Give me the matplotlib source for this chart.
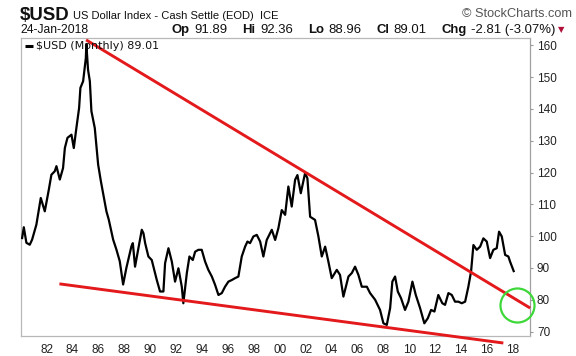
import matplotlib
matplotlib.use("Agg")
import matplotlib.pyplot as plt

# ---- data ----
years = [1980.11, 1980.24, 1980.44, 1980.70, 1980.88, 1981.21, 1981.55, 1981.86,
         1982.17, 1982.37, 1982.63, 1982.76, 1983.02, 1983.27, 1983.41, 1983.61,
         1983.92, 1984.10, 1984.30, 1984.51, 1984.61, 1984.82, 1985.03, 1985.07,
         1985.20, 1985.34, 1985.46, 1985.72, 1985.98, 1986.19, 1986.36, 1986.62,
         1986.80, 1987.14, 1987.39, 1987.65, 1987.91, 1988.16, 1988.55, 1988.66,
         1988.83, 1989.09, 1989.35, 1989.48, 1989.61, 1989.86, 1990.12, 1990.51,
         1990.76, 1991.02, 1991.15, 1991.41, 1991.67, 1991.92, 1992.18, 1992.44,
         1992.56, 1992.83, 1993.03, 1993.29, 1993.47, 1993.72, 1993.98, 1994.24,
         1994.49, 1994.76, 1995.01, 1995.27, 1995.53, 1995.78, 1996.04, 1996.30,
         1996.56, 1996.81, 1997.07, 1997.33, 1997.51, 1997.71, 1997.97, 1998.23,
         1998.49, 1998.74, 1999.00, 1999.39, 1999.65, 1999.90, 2000.16, 2000.42,
         2000.67, 2000.93, 2001.19, 2001.37, 2001.63, 2001.96, 2002.14, 2002.35,
         2002.73, 2002.99, 2003.25, 2003.51, 2003.76, 2004.02, 2004.41, 2004.66,
         2004.92, 2005.31, 2005.57, 2005.82, 2006.08, 2006.34, 2006.73, 2006.98,
         2007.37, 2007.75, 2008.01, 2008.27, 2008.53, 2008.70, 2008.91, 2009.12,
         2009.37, 2009.68, 2009.94, 2010.25, 2010.51, 2010.84, 2011.17, 2011.44,
         2011.69, 2011.95, 2012.25, 2012.56, 2012.77, 2013.03, 2013.29, 2013.54,
         2013.80, 2014.06, 2014.32, 2014.57, 2014.78, 2014.96, 2015.22, 2015.48,
         2015.73, 2015.99, 2016.25, 2016.50, 2016.76, 2016.94, 2017.15, 2017.41,
         2017.66, 2017.79, 2018.07]
values = [99.4, 102.8, 97.9, 97.3, 98.9, 103.6, 112.0, 107.8,
          114.6, 119.3, 120.4, 122.0, 117.8, 121.4, 127.7, 130.9,
          131.9, 127.7, 134.0, 140.3, 146.6, 148.7, 156.0, 160.4,
          152.3, 148.7, 139.3, 134.0, 122.5, 117.3, 113.6, 107.8,
          105.2, 98.9, 95.8, 92.1, 84.8, 90.0, 96.8, 97.8,
          90.4, 96.2, 102.0, 100.9, 97.8, 93.6, 92.5, 86.2,
          82.6, 82.6, 91.5, 96.2, 92.0, 85.7, 89.9, 84.1,
          78.9, 88.4, 93.6, 92.5, 95.1, 95.7, 95.7, 92.0,
          89.4, 87.3, 84.7, 81.5, 82.1, 84.1, 85.7, 86.2,
          86.8, 87.3, 93.6, 96.7, 98.3, 97.8, 99.9, 100.4,
          98.3, 93.6, 98.8, 102.0, 98.8, 102.5, 108.2, 106.7,
          115.6, 109.3, 117.7, 119.2, 113.5, 119.8, 118.2, 106.1,
          105.1, 99.9, 93.6, 96.7, 92.0, 86.8, 89.4, 87.8,
          81.0, 87.3, 88.4, 90.4, 87.8, 84.1, 84.1, 82.1,
          80.0, 76.8, 72.6, 72.1, 77.4, 85.7, 87.3, 82.6,
          80.5, 76.8, 79.4, 85.7, 81.5, 77.4, 72.6, 74.2,
          76.8, 76.3, 81.5, 78.9, 78.4, 82.1, 81.5, 79.4,
          79.4, 78.9, 79.4, 84.1, 88.9, 97.2, 95.7, 96.7,
          99.3, 98.3, 93.1, 95.7, 96.2, 101.4, 99.9, 94.1,
          93.6, 92.0, 89.01]

upper_trend_years = [1985.05, 2019.34]
upper_trend_values = [161.7, 77.4]
lower_trend_years = [1982.99, 2017.27]
lower_trend_values = [85.0, 66.4]
circle_year = [2018.31]
circle_value = [78.4]

xtick_years = list(range(1982, 2019, 2))
xtick_labels = [f"{y % 100:02d}" for y in xtick_years]
ytick_values = list(range(70, 161, 10))

header_symbol = "$USD"
header_name = "US Dollar Index - Cash Settle (EOD)  ICE"
header_date = "24-Jan-2018"
header_pieces = [("Op", True), ("91.89", False), ("Hi", True), ("92.36", False),
                 ("Lo", True), ("88.96", False), ("Cl", True), ("89.01", False),
                 ("Chg", True), ("-2.81 (-3.07%)", False)]
legend_label = "$USD (Monthly) 89.01"

# ---- figure ----
W, H = 576, 356
fig = plt.figure(figsize=(W / 100, H / 100), dpi=100)
fig.patch.set_facecolor("white")
SANS = ["Liberation Sans", "DejaVu Sans"]

ax_l, ax_r, ax_t, ax_b = 20.7, 530.0, 37.5, 335.7
ax = fig.add_axes([ax_l / W, 1 - ax_b / H, (ax_r - ax_l) / W, (ax_b - ax_t) / H])
ax.set_xlim(1980.0, 2019.33)
ax.set_ylim(68.7, 162.45)

ax.plot(years, values, color="black", lw=1.6, zorder=3)
ax.plot(upper_trend_years, upper_trend_values, color="#e3191c", lw=2.1,
        clip_on=False, solid_capstyle="butt", zorder=4)
ax.plot(lower_trend_years, lower_trend_values, color="#e3191c", lw=2.1,
        clip_on=False, solid_capstyle="butt", zorder=4)
ax.plot(circle_year, circle_value, marker="o", ms=24.5, mfc="none",
        mec="#3fd83a", mew=1.6, clip_on=False, zorder=5, ls="none")

for s in ["left", "top", "bottom"]:
    ax.spines[s].set_color("#b8b8b8")
    ax.spines[s].set_linewidth(0.9)
ax.spines["right"].set_color("#a0a0a0")
ax.spines["right"].set_linewidth(0.9)
ax.spines["right"].set_linestyle((0, (1, 1)))

ax.yaxis.tick_right()
ax.set_yticks(ytick_values)
ax.set_yticklabels([str(v) for v in ytick_values], family=SANS)
ax.set_xticks(xtick_years)
ax.set_xticklabels(xtick_labels, family=SANS)
ax.tick_params(axis="y", length=2.5, width=0.8, color="#999999", pad=2.5,
               labelsize=8.5, labelcolor="#222222")
ax.tick_params(axis="x", length=0, pad=6, labelsize=8.5, labelcolor="#222222")

# legend-like label inside the plot
ax.plot([0.0084, 0.024], [0.9715, 0.9715], transform=ax.transAxes,
        color="black", lw=2.2, solid_capstyle="butt", zorder=6)
ax.text(0.031, 0.9715, legend_label, transform=ax.transAxes, fontsize=8,
        family="DejaVu Sans", va="center", ha="left", color="#111111", zorder=6)

# ---- header texts, fitted to the reference widths ----
fig.canvas.draw()
renderer = fig.canvas.get_renderer()


def width_of(t):
    return t.get_window_extent(renderer).width


def fit(x0, x1, ybase, s, size=10, **kw):
    t = fig.text(x0 / W, 1 - ybase / H, s, fontsize=size, va="baseline",
                 ha="left", **kw)
    w = width_of(t)
    t.set_fontsize(size * (x1 - x0) / w)
    return t


fit(20, 70, 19.5, header_symbol, weight="bold", family=SANS, color="#111111")
fit(73, 279, 19, header_name, family=SANS, color="#111111")
fit(462, 572, 17, "\u00a9 StockCharts.com", family=SANS, color="#555555")
fit(20, 88, 33, header_date, family=SANS, color="#111111")

# mixed bold / regular row
base = 9.0
gap_in, gap_out = 0.32, 1.15   # in units of font size
tmp = []
for s, b in header_pieces:
    t = fig.text(0, 0, s, fontsize=base, weight="bold" if b else "normal",
                 family=SANS)
    tmp.append(width_of(t))
    t.remove()
px = base * 100 / 72
natural = sum(tmp)
for i in range(len(header_pieces) - 1):
    natural += (gap_in if header_pieces[i][1] else gap_out) * px
scale = (555 - 172) / natural
size = base * scale
x = 172.0
for i, (s, b) in enumerate(header_pieces):
    fig.text(x / W, 1 - 33 / H, s, fontsize=size,
             weight="bold" if b else "normal", family=SANS,
             va="baseline", ha="left", color="#111111")
    x += tmp[i] * scale
    if i < len(header_pieces) - 1:
        x += (gap_in if b else gap_out) * px * scale
fig.text((x + 3) / W, 1 - 32 / H, "\u25bc", fontsize=6, color="#b0103a",
         family=["DejaVu Sans"], va="baseline", ha="left")

fig.savefig("out.png", dpi=100, facecolor="white")
